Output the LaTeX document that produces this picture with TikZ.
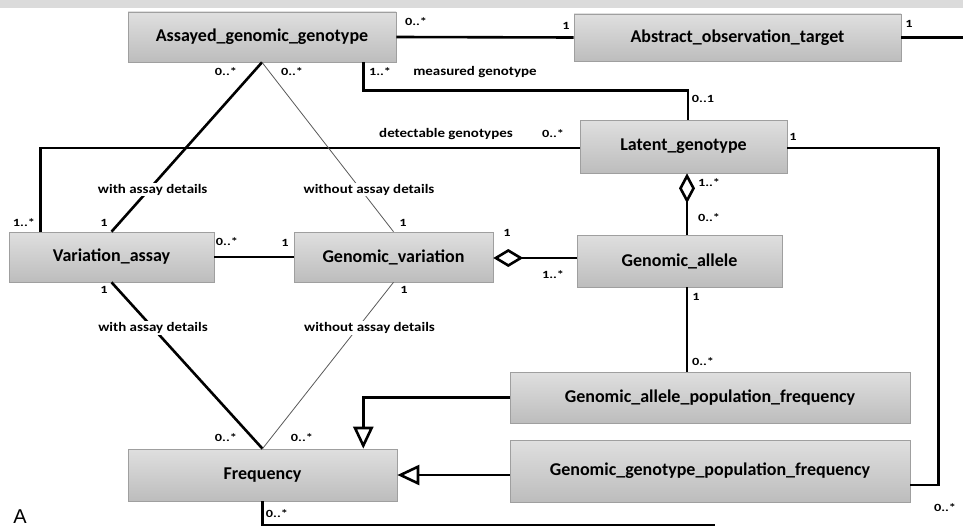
\documentclass[tikz,border=0pt]{standalone}
\usepackage{fontspec}
\setmainfont{Carlito}
\newfontfamily\letterfont{Liberation Sans}
\usetikzlibrary{arrows.meta,calc}
\newcommand{\lbltext}[1]{\scalebox{1.15}[1]{#1}}
\newcommand{\multtext}[1]{\scalebox{1.3}[1]{#1}}
\tikzset{
  box/.style={draw=gray!75, line width=0.6pt, top color=gray!25, bottom color=gray!52,
    inner sep=0pt, text=black, font=\fontsize{18}{20}\selectfont\bfseries},
  lab/.style={font=\fontsize{13}{15}\selectfont\bfseries, inner sep=1pt},
  onlab/.style={lab, fill=white},
  mult/.style={font=\fontsize{11}{13}\selectfont\bfseries, inner sep=0pt},
  assoc/.style={line width=2.6pt},
  thinl/.style={line width=0.8pt, draw=gray!70!black},
  gen/.style={line width=2.6pt, -{Triangle[open, length=22pt, width=20pt]}},
  aggr/.style={line width=2.6pt},
}
\begin{document}
\begin{tikzpicture}[x=1pt, y=-1pt]
\useasboundingbox (0,0) rectangle (963,527);
\fill[gray!28] (0,0) rectangle (963,8);

% classes
\node[box, minimum width=268pt, minimum height=50pt] (agg) at (262,37) {Assayed\_genomic\_genotype};
\node[box, minimum width=327pt, minimum height=47pt] (aot) at (737.5,37.5) {Abstract\_observation\_target};
\node[box, minimum width=207pt, minimum height=53pt] (lat) at (683.5,146.5) {Latent\_genotype};
\node[box, minimum width=205pt, minimum height=50pt] (va) at (111.5,257) {Variation\_assay};
\node[box, minimum width=199pt, minimum height=50pt] (gv) at (393.5,257) {Genomic\_variation};
\node[box, minimum width=205pt, minimum height=52pt] (ga) at (679.5,261) {Genomic\_allele};
\node[box, minimum width=400pt, minimum height=51pt] (gapf) at (710,397.5) {Genomic\_allele\_population\_frequency};
\node[box, minimum width=400pt, minimum height=62pt] (ggpf) at (710,471) {Genomic\_genotype\_population\_frequency};
\node[box, minimum width=269pt, minimum height=52pt] (freq) at (262.5,475) {Frequency};

% free ends
\coordinate (aotend) at (963,37.5);
\coordinate (fend) at (715,525);
\coordinate (latx) at ($(lat.south)+(3.5,0)$);
\coordinate (gax) at ($(ga.south)+(7.5,0)$);

% associations
\draw[assoc] (agg.east) -- (aot.west);
\draw[assoc] (aot.east) -- (aotend);
\draw[assoc] ($(agg.south east)+(-33,0)$) -- ++(0,28) -| ($(lat.north)+(4.5,0)$);
\draw[assoc] ($(lat.west)+(0,1.5)$) -| ($(va.north west)+(32,0)$);
\draw[assoc] ($(lat.east)+(0,1.5)$) -- ($(lat.east)+(151,1.5)$) |- ($(ggpf.east)+(0,14)$);
\draw[assoc] (va.east) -- (gv.west);
\draw[assoc] (freq.south) -- (freq.south |- fend) -- (fend);

\draw[assoc] (agg.south) -- node[onlab, pos=0.753, xshift=4pt] (l1) {\lbltext{with assay details}} (va.north);
\draw[thinl] (agg.south) -- node[onlab, pos=0.753, xshift=8pt] (l2) {\lbltext{without assay details}} (gv.north);
\draw[assoc] (va.south) -- node[onlab, pos=0.275] (l3) {\lbltext{with assay details}} (freq.north);
\draw[thinl] (gv.south) -- node[onlab, pos=0.275, xshift=12pt] (l4) {\lbltext{without assay details}} (freq.north);

% aggregations
\draw[aggr, {Diamond[open, length=30pt, width=18pt]}-] (gv.east |- 0,258) -- (ga.west |- 0,258);
\draw[aggr, {Diamond[open, length=30pt, width=16pt]}-] (latx) -- (latx |- ga.north);
\draw[assoc] (gax) -- (gax |- gapf.north);

% generalizations
\draw[gen] (gapf.west) -| ($(freq.north east)+(-34,0)$);
\draw[gen] (ggpf.west |- freq.east) -- (freq.east);

% texts
\node[lab] (mg) at (475,72) {\lbltext{measured genotype}};
\node[lab] (dg) at (446,134) {\lbltext{detectable genotypes}};

\node[mult] (m1) at (416,22) {\multtext{0..*}};
\node[mult] (m2) at (566,26) {\multtext{1}};
\node[mult] (m3) at (909,24) {\multtext{1}};
\node[mult] (m4) at (226,72) {\multtext{0..*}};
\node[mult] (m5) at (292,72) {\multtext{0..*}};
\node[mult] (m6) at (380,72) {\multtext{1..*}};
\node[mult] (m7) at (703,99) {\multtext{0..1}};
\node[mult] (m8) at (553,134) {\multtext{0..*}};
\node[mult] (m9) at (793,137) {\multtext{1}};
\node[mult] (m10) at (24,223) {\multtext{1..*}};
\node[mult] (m11) at (104,223) {\multtext{1}};
\node[mult] (m12) at (403,223) {\multtext{1}};
\node[mult] (m13) at (227,242) {\multtext{0..*}};
\node[mult] (m14) at (285,243) {\multtext{1}};
\node[mult] (m15) at (104,290) {\multtext{1}};
\node[mult] (m16) at (404,290) {\multtext{1}};
\node[mult] (m17) at (507,233) {\multtext{1}};
\node[mult] (m18) at (553,275) {\multtext{1..*}};
\node[mult] (m19) at (709,183) {\multtext{1..*}};
\node[mult] (m20) at (709,218) {\multtext{0..*}};
\node[mult] (m21) at (696,297) {\multtext{1}};
\node[mult] (m22) at (703,362) {\multtext{0..*}};
\node[mult] (m23) at (226,438) {\multtext{0..*}};
\node[mult] (m24) at (302,438) {\multtext{0..*}};
\node[mult] (m25) at (277,514) {\multtext{0..*}};
\node[mult] (m26) at (945,508) {\multtext{0..*}};

\node[font=\letterfont\fontsize{20}{22}\selectfont, inner sep=0pt] (A) at (20,517) {A};
\end{tikzpicture}
\end{document}
